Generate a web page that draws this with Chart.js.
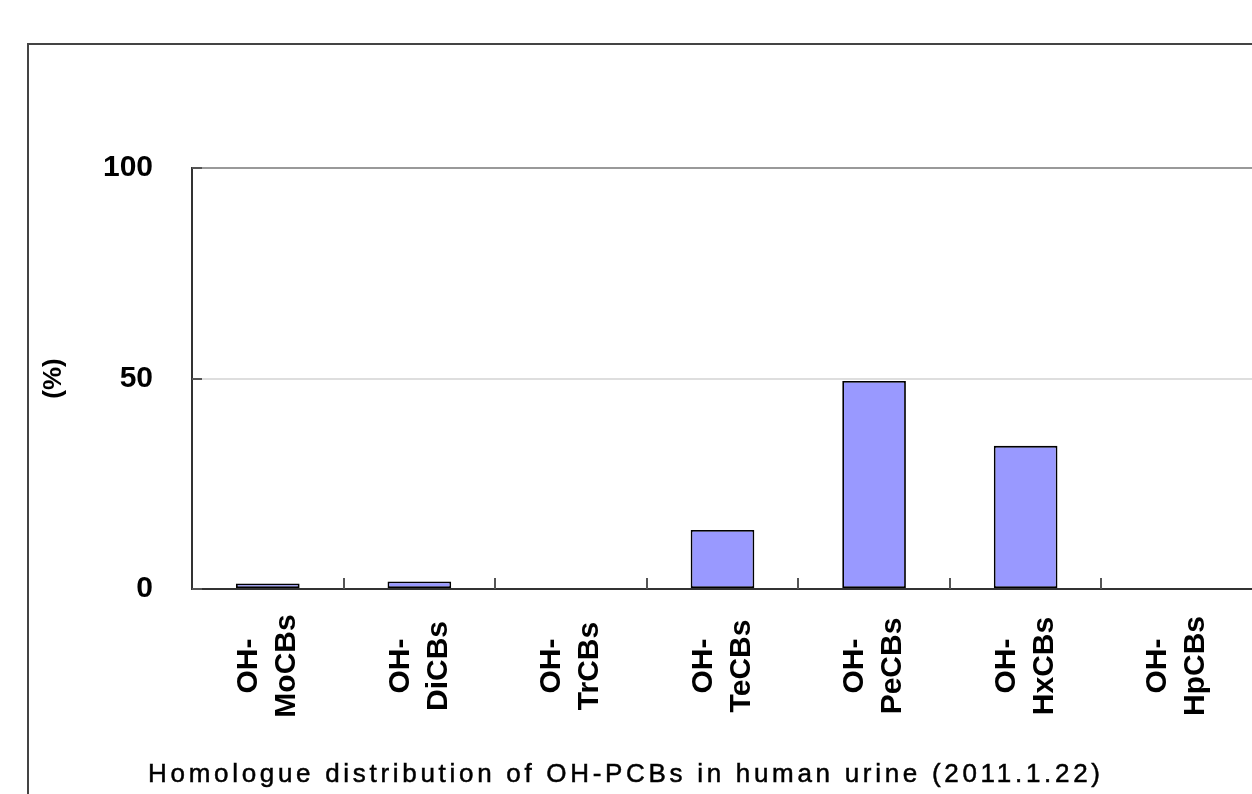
<!DOCTYPE html>
<html>
<head>
<meta charset="utf-8">
<script src="https://cdn.jsdelivr.net/npm/chart.js@4"></script>
<style>
  html, body { margin: 0; padding: 0; background: #fff; overflow: hidden; }
  #frame {
    position: absolute; left: 27px; top: 43px;
    width: 1400px; height: 1000px;
    border: 2px solid #444;
  }
  #wrap { position: absolute; left: 0; top: 0; width: 1253px; height: 794px; }
  #caption {
    position: absolute; left: 148px; top: 758px;
    font-family: "Liberation Sans", Arial, sans-serif;
    font-size: 26px; letter-spacing: 3.7px; white-space: nowrap; color: #000;
    -webkit-text-stroke: 0.5px #000;
  }
</style>
</head>
<body>
<div id="frame"></div>
<div id="wrap"><canvas id="chart"></canvas></div>
<div id="caption">Homologue distribution of OH-PCBs in human urine (2011.1.22)</div>
<script>
(function () {
  const homologues = [
    ['OH-', 'MoCBs'],
    ['OH-', 'DiCBs'],
    ['OH-', 'TrCBs'],
    ['OH-', 'TeCBs'],
    ['OH-', 'PeCBs'],
    ['OH-', 'HxCBs'],
    ['OH-', 'HpCBs']
  ];
  const percent = [1.3, 1.8, 0, 14.0, 49.4, 34.0, 0];
  const yTicks = [0, 50, 100];

  const font = '"Liberation Sans", Arial, sans-serif';

  // short inner tick marks and centred two-line rotated category labels
  const axisDecor = {
    id: 'axisDecor',
    afterDraw(chart) {
      const { ctx, chartArea, scales } = chart;
      const x = scales.x;
      const y = scales.y;
      ctx.save();
      ctx.strokeStyle = '#555';
      ctx.lineWidth = 2;
      ctx.beginPath();
      for (let i = 1; i <= homologues.length; i++) {
        const px = Math.round((x.getPixelForValue(i - 1) + x.getPixelForValue(i)) / 2);
        ctx.moveTo(px, chartArea.bottom);
        ctx.lineTo(px, chartArea.bottom - 11);
      }
      yTicks.forEach((v) => {
        const py = Math.round(y.getPixelForValue(v));
        ctx.moveTo(chartArea.left, py);
        ctx.lineTo(chartArea.left + 10, py);
      });
      ctx.stroke();

      ctx.fillStyle = '#000';
      ctx.font = 'bold 30px ' + font;
      ctx.textAlign = 'center';
      ctx.textBaseline = 'middle';
      homologues.forEach((lines, i) => {
        const px = x.getPixelForValue(i);
        ctx.save();
        ctx.translate(px, 666);
        ctx.rotate(-Math.PI / 2);
        ctx.fillText(lines[0], 0, -19);
        ctx.fillText(lines[1], 0, 19);
        ctx.restore();
      });
      ctx.restore();
    }
  };

  new Chart(document.getElementById('chart'), {
    type: 'bar',
    data: {
      labels: homologues.map((l) => l.join(' ')),
      datasets: [
        {
          data: percent,
          backgroundColor: '#9999ff',
          borderColor: '#000',
          borderWidth: 1.8,
          borderSkipped: false,
          categoryPercentage: 1,
          barPercentage: 0.42
        }
      ]
    },
    options: {
      responsive: true,
      maintainAspectRatio: false,
      animation: false,
      layout: { padding: { top: 168, left: 0, right: 0, bottom: 0 } },
      scales: {
        x: {
          grid: { display: false },
          border: { color: '#333', width: 2 },
          ticks: { display: false },
          afterFit(scale) { scale.height = 205; }
        },
        y: {
          min: 0,
          max: 100,
          afterBuildTicks(scale) {
            scale.ticks = yTicks.map((v) => ({ value: v }));
          },
          grid: {
            drawTicks: false,
            lineWidth: 2,
            color: (c) => c.tick.value === 100 ? '#999' : (c.tick.value === 50 ? '#dedede' : 'rgba(0,0,0,0)')
          },
          border: { color: '#333', width: 2 },
          ticks: {
            padding: 39,
            color: '#000',
            font: { family: font, size: 30, weight: 'bold' }
          },
          title: {
            display: true,
            text: '(%)',
            color: '#000',
            padding: { top: 38, bottom: 0 },
            font: { family: font, size: 26, weight: 'bold' }
          },
          afterFit(scale) { scale.width = 192; }
        }
      },
      plugins: {
        legend: { display: false },
        tooltip: { enabled: false }
      }
    },
    plugins: [axisDecor]
  });
})();
</script>
</body>
</html>
